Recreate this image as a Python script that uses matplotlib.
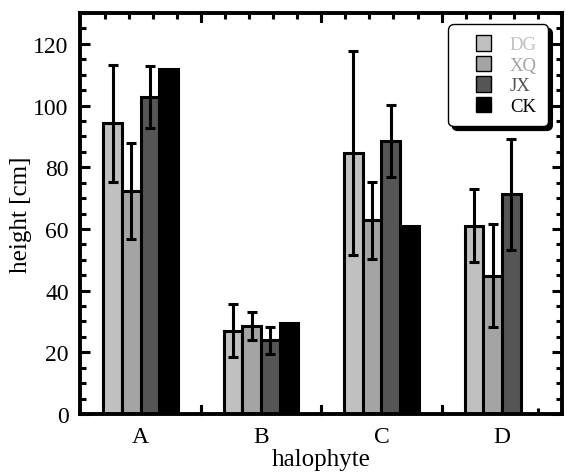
import numpy as np
import matplotlib
matplotlib.use('Agg')
import matplotlib.pyplot as plt
import matplotlib.patches as mpatches
from matplotlib.legend_handler import HandlerPatch
from matplotlib.ticker import MultipleLocator, FixedLocator

# data
groups = ['A', 'B', 'C', 'D']
series = ['DG', 'XQ', 'JX', 'CK']
dg = [94.3, 27.0, 84.6, 61.1]
dg_err = [19.0, 8.5, 33.2, 11.7]
xq = [72.2, 28.6, 62.8, 44.9]
xq_err = [15.6, 4.6, 12.4, 16.6]
jx = [102.8, 23.9, 88.5, 71.2]
jx_err = [10.0, 4.4, 11.8, 18.0]
ck = [111.9, 29.6, 61.1, np.nan]

colors = ['#c0c0c0', '#a4a4a4', '#555555', '#000000']

plt.rcParams['font.family'] = ['Liberation Serif', 'DejaVu Serif']

fig = plt.figure(figsize=(5.66, 4.77), dpi=100)
ax = fig.add_axes([0.1422, 0.130, 0.8508, 0.8406])

x = np.arange(1, len(groups) + 1)
w = 0.155
offsets = [-1.5 * w, -0.5 * w, 0.5 * w, 1.5 * w]
vals = [dg, xq, jx, ck]
errs = [dg_err, xq_err, jx_err, None]

for i in range(4):
    ax.bar(x + offsets[i], vals[i], w, color=colors[i], edgecolor='black',
           linewidth=2.2, zorder=2)
    if errs[i] is not None:
        ax.errorbar(x + offsets[i], vals[i], yerr=errs[i], fmt='none',
                    ecolor='black', elinewidth=2.2, capsize=3.8, capthick=2.2,
                    zorder=3)

ax.set_xlim(0.5, 4.5)
ax.set_ylim(0, 130)
ax.set_xticks(x)
ax.set_xticklabels(groups)
ax.yaxis.set_major_locator(MultipleLocator(20))
ax.yaxis.set_minor_locator(MultipleLocator(5))
ax.xaxis.set_minor_locator(FixedLocator(np.arange(0.7, 4.5, 0.2)))

ax.tick_params(which='both', direction='in', top=True, right=True, width=2.2,
               labelsize=17, pad=8.5)
ax.tick_params(which='major', axis='y', length=7)
ax.tick_params(which='minor', length=4)
# the category ticks carry only labels, separators are the marks
ax.tick_params(which='major', axis='x', length=0)
for xs in [1.5, 2.5, 3.5]:
    ax.plot([xs, xs], [0, 2.6], color='black', lw=2.2, zorder=4, clip_on=False)
    ax.plot([xs, xs], [130 - 2.6, 130], color='black', lw=2.2, zorder=4, clip_on=False)

for s in ax.spines.values():
    s.set_linewidth(2.8)

ax.set_xlabel('halophyte', fontsize=18, labelpad=1)
ax.set_ylabel('height [cm]', fontsize=18, labelpad=1)


# square swatch sitting at the right end of a wider handle slot
def square_right(legend, orig_handle, xdescent, ydescent, width, height, fontsize):
    return mpatches.Rectangle((-xdescent + width - height, -ydescent), height, height)


proxies = [mpatches.Patch(facecolor=c, edgecolor='black', linewidth=1.0) for c in colors]
leg = ax.legend(handles=proxies, labels=series, loc='upper right',
                bbox_to_anchor=(0.979, 0.982), fontsize=13.5, frameon=True,
                fancybox=True, shadow={'color': 'black', 'alpha': 1.0, 'ox': 3, 'oy': -3},
                handlelength=1.7, handleheight=0.9, labelspacing=0.12,
                handletextpad=1.0, borderpad=0.6, borderaxespad=0.2,
                handler_map={mpatches.Patch: HandlerPatch(patch_func=square_right)})
leg.get_frame().set_edgecolor('black')
leg.get_frame().set_linewidth(1.0)
leg.get_frame().set_boxstyle('round,pad=0,rounding_size=0.3')
for t, c in zip(leg.get_texts(), colors):
    t.set_color(c)

fig.savefig('out.png', dpi=100)
